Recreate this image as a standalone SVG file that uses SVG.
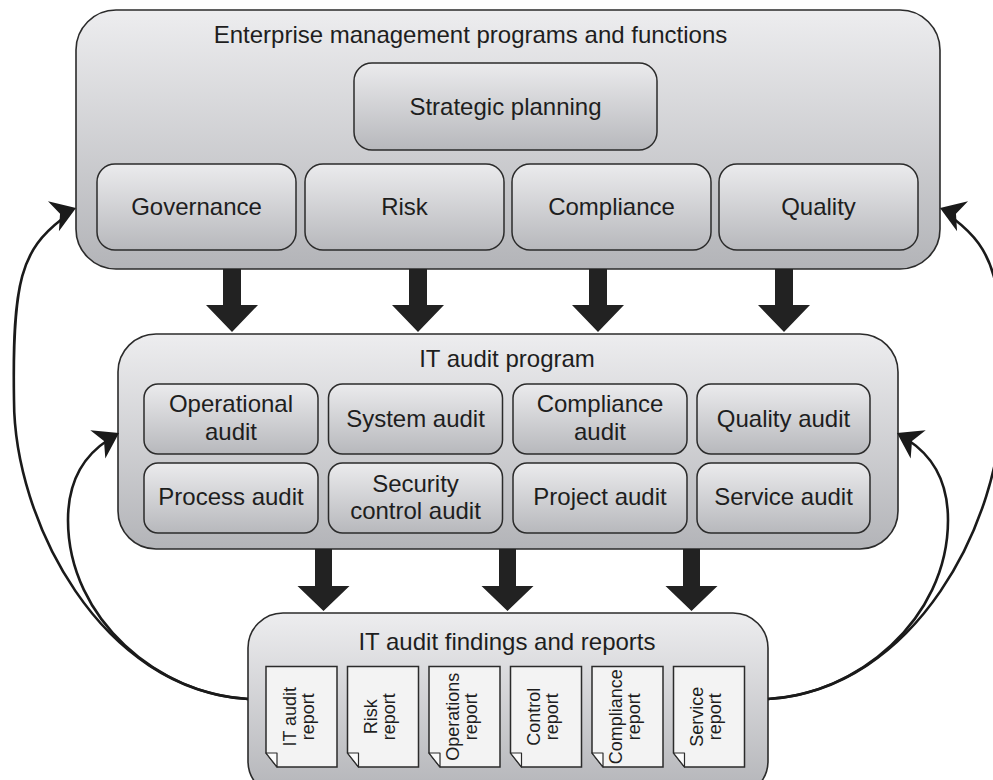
<svg xmlns="http://www.w3.org/2000/svg" xmlns:xlink="http://www.w3.org/1999/xlink" width="993" height="780" viewBox="0 0 993 780">
<defs>
<linearGradient id="g" x1="0" y1="0" x2="0" y2="1">
<stop offset="0" stop-color="#ededef"/>
<stop offset="1" stop-color="#b3b4b8"/>
</linearGradient>
<linearGradient id="g2" x1="0" y1="0" x2="0" y2="1">
<stop offset="0" stop-color="#ebebed"/>
<stop offset="1" stop-color="#b7b8bc"/>
</linearGradient>
<path id="ah" d="M0,0 L-24,-16 L-17,0 L-24,16 Z"/>
<style>
.box{fill:url(#g);stroke:#2b2b2b;stroke-width:1.6}
.inner{fill:url(#g2);stroke:#2b2b2b;stroke-width:1.5}
.doc{fill:#f3f3f3;stroke:#2b2b2b;stroke-width:1.5}
.fold{fill:#fbfbfb;stroke:#2b2b2b;stroke-width:1.2;stroke-linejoin:round}
text{font-family:"Liberation Sans",Arial,sans-serif;fill:#1e1e1e}
.t{font-size:24px;text-anchor:middle}
.d{font-size:18px;text-anchor:middle}
.big{fill:#222}
.curve{fill:none;stroke:#1a1a1a;stroke-width:2.6}
.head{fill:#1a1a1a}
</style>
</defs>
<rect width="993" height="780" fill="#ffffff"/>

<g id="enterprise">
<rect class="box" x="76" y="10" width="864" height="259" rx="40"/>
<text class="t" x="470.5" y="43">Enterprise management programs and functions</text>
</g>
<g id="strategic-planning">
<rect class="inner" x="354" y="63" width="303" height="87" rx="18"/>
<text class="t" x="505.5" y="114.5">Strategic planning</text>
</g>
<g id="governance">
<rect class="inner" x="97" y="164" width="199" height="86" rx="18"/>
<text class="t" x="196.5" y="215">Governance</text>
</g>
<g id="risk">
<rect class="inner" x="305" y="164" width="199" height="86" rx="18"/>
<text class="t" x="404.5" y="215">Risk</text>
</g>
<g id="compliance">
<rect class="inner" x="512" y="164" width="199" height="86" rx="18"/>
<text class="t" x="611.5" y="215">Compliance</text>
</g>
<g id="quality">
<rect class="inner" x="719" y="164" width="199" height="86" rx="18"/>
<text class="t" x="818.5" y="215">Quality</text>
</g>

<g id="it-audit-program">
<rect class="box" x="118" y="334" width="780" height="215" rx="38"/>
<text class="t" x="507" y="367">IT audit program</text>
</g>
<g id="operational-audit">
<rect class="inner" x="144" y="384" width="174" height="70" rx="14"/>
<text class="t" x="231" y="412">Operational</text>
<text class="t" x="231" y="440">audit</text>
</g>
<g id="system-audit">
<rect class="inner" x="328.5" y="384" width="174" height="70" rx="14"/>
<text class="t" x="415.5" y="427">System audit</text>
</g>
<g id="compliance-audit">
<rect class="inner" x="513" y="384" width="174" height="70" rx="14"/>
<text class="t" x="600" y="412">Compliance</text>
<text class="t" x="600" y="440">audit</text>
</g>
<g id="quality-audit">
<rect class="inner" x="697" y="384" width="173" height="70" rx="14"/>
<text class="t" x="783.5" y="427">Quality audit</text>
</g>
<g id="process-audit">
<rect class="inner" x="144" y="463" width="174" height="70" rx="14"/>
<text class="t" x="231" y="505">Process audit</text>
</g>
<g id="security-control-audit">
<rect class="inner" x="328.5" y="463" width="174" height="70" rx="14"/>
<text class="t" x="415.5" y="492">Security</text>
<text class="t" x="415.5" y="519">control audit</text>
</g>
<g id="project-audit">
<rect class="inner" x="513" y="463" width="174" height="70" rx="14"/>
<text class="t" x="600" y="505">Project audit</text>
</g>
<g id="service-audit">
<rect class="inner" x="697" y="463" width="173" height="70" rx="14"/>
<text class="t" x="783.5" y="505">Service audit</text>
</g>

<g id="findings-and-reports">
<rect class="box" x="248" y="613" width="520" height="183" rx="35"/>
<text class="t" x="507" y="650">IT audit findings and reports</text>
</g>
<g id="it-audit-report">
<path class="doc" d="M266,666.5 H337 V767 H277 L266,753 Z"/>
<path class="fold" d="M266,753 H277 V767 Z"/>
<text class="d" transform="translate(301.5,716.75) rotate(-90)"><tspan x="0" y="-6">IT audit</tspan><tspan x="0" y="12">report</tspan></text>
</g>
<g id="risk-report">
<path class="doc" d="M347.5,666.5 H418.5 V767 H358.5 L347.5,753 Z"/>
<path class="fold" d="M347.5,753 H358.5 V767 Z"/>
<text class="d" transform="translate(383,716.75) rotate(-90)"><tspan x="0" y="-6">Risk</tspan><tspan x="0" y="12">report</tspan></text>
</g>
<g id="operations-report">
<path class="doc" d="M429,666.5 H500 V767 H440 L429,753 Z"/>
<path class="fold" d="M429,753 H440 V767 Z"/>
<text class="d" transform="translate(464.5,716.75) rotate(-90)"><tspan x="0" y="-6">Operations</tspan><tspan x="0" y="12">report</tspan></text>
</g>
<g id="control-report">
<path class="doc" d="M510.5,666.5 H581.5 V767 H521.5 L510.5,753 Z"/>
<path class="fold" d="M510.5,753 H521.5 V767 Z"/>
<text class="d" transform="translate(546,716.75) rotate(-90)"><tspan x="0" y="-6">Control</tspan><tspan x="0" y="12">report</tspan></text>
</g>
<g id="compliance-report">
<path class="doc" d="M592,666.5 H663 V767 H603 L592,753 Z"/>
<path class="fold" d="M592,753 H603 V767 Z"/>
<text class="d" transform="translate(627.5,716.75) rotate(-90)"><tspan x="0" y="-6">Compliance</tspan><tspan x="0" y="12">report</tspan></text>
</g>
<g id="service-report">
<path class="doc" d="M673.5,666.5 H744.5 V767 H684.5 L673.5,753 Z"/>
<path class="fold" d="M673.5,753 H684.5 V767 Z"/>
<text class="d" transform="translate(709,716.75) rotate(-90)"><tspan x="0" y="-6">Service</tspan><tspan x="0" y="12">report</tspan></text>
</g>

<g id="connectors">
<path class="big" d="M223,269 H241 V305 H258 L232,332 L206,305 H223 Z"/>
<path class="big" d="M409,269 H427 V305 H444 L418,332 L392,305 H409 Z"/>
<path class="big" d="M589,269 H607 V305 H624 L598,332 L572,305 H589 Z"/>
<path class="big" d="M775,269 H793 V305 H810 L784,332 L758,305 H775 Z"/>
<path class="big" d="M315,549 H332 V586 H349.5 L323.5,611 L297.5,586 H315 Z"/>
<path class="big" d="M499,549 H516 V586 H533.5 L507.5,611 L481.5,586 H499 Z"/>
<path class="big" d="M683,549 H700 V586 H717.5 L691.5,611 L665.5,586 H683 Z"/>

<path class="curve" d="M248,699 C100,690 14,520 14,400 C12,280 22,250 62,219"/>
<use class="head" xlink:href="#ah" href="#ah" transform="translate(76,208) rotate(-20)"/>
<path class="curve" d="M248,699 C160,695 68,620 68,520 C68,480 85,455 108,440"/>
<use class="head" xlink:href="#ah" href="#ah" transform="translate(119,433) rotate(-28)"/>
<path class="curve" d="M768,699 C916,690 1002,520 1002,400 C1004,280 994,250 954,219"/>
<use class="head" xlink:href="#ah" href="#ah" transform="translate(940,208) rotate(200)"/>
<path class="curve" d="M768,699 C856,695 948,620 948,520 C948,480 931,455 908,440"/>
<use class="head" xlink:href="#ah" href="#ah" transform="translate(897,433) rotate(208)"/>
</g>
</svg>
